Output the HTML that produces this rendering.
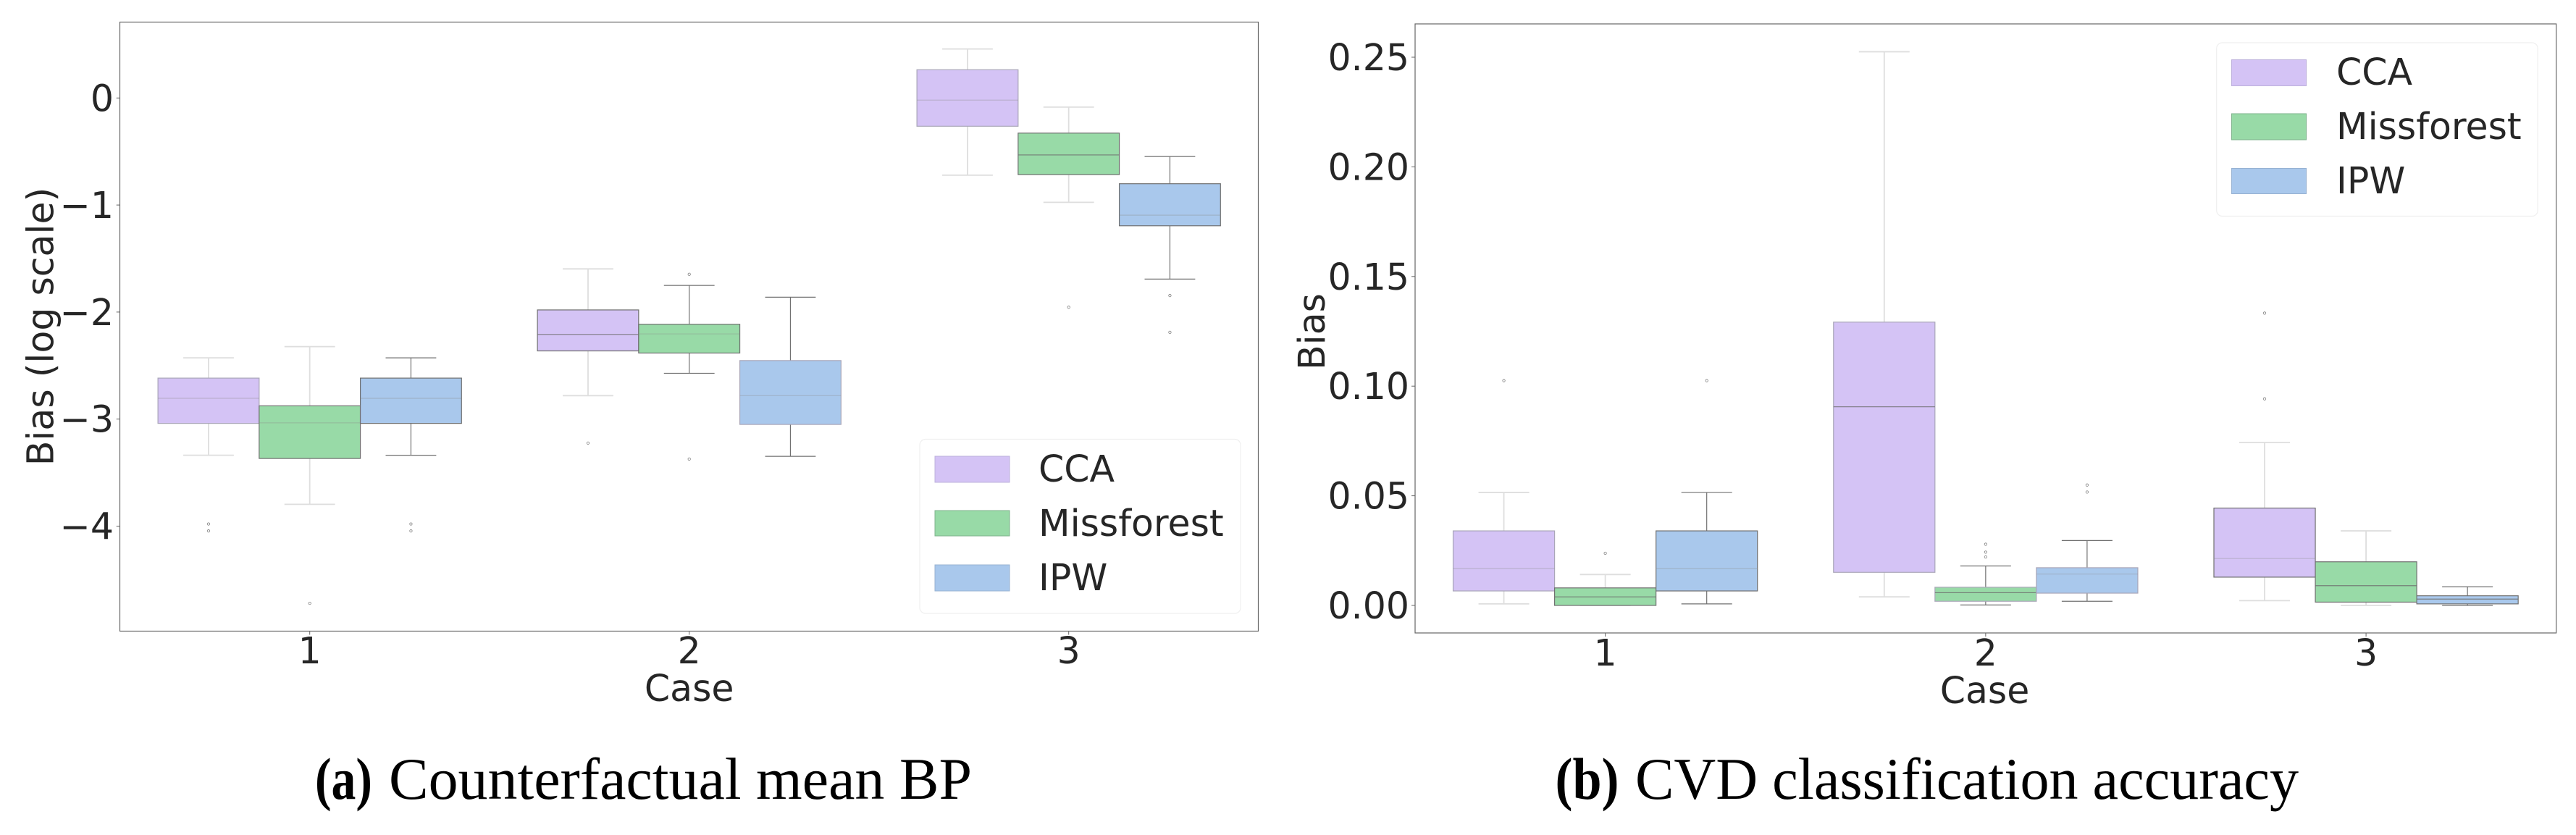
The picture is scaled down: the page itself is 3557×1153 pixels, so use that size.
<!DOCTYPE html>
<html lang="en">
<head>
<meta charset="utf-8">
<title>Bias box plots</title>
<style>
html,body{margin:0;padding:0;background:#fff;}
svg{display:block;}
.sans{font-family:"DejaVu Sans","Liberation Sans",sans-serif;fill:#262626;font-size:50.5px;}
.serif{font-family:"Liberation Serif",serif;fill:#000;font-size:82px;}
</style>
</head>
<body>
<svg id="figure" xmlns="http://www.w3.org/2000/svg" width="3557" height="1153" viewBox="0 0 3557 1153">
  <rect x="0" y="0" width="3557" height="1153" fill="#fff"/>

  <g id="panel-a">
    <g id="a-marks"></g>
    <g id="a-axes"></g>
    <rect x="165.5" y="30.5" width="1572" height="841" fill="none" stroke="#666" stroke-width="1.2"/>
    <text class="sans" x="951.7" y="968" text-anchor="middle">Case</text>
    <text class="sans" transform="translate(73.5,451) rotate(-90)" text-anchor="middle">Bias (log scale)</text>
    <g>
      <rect x="1270" y="606.5" width="443" height="240.5" rx="8" fill="#fff" fill-opacity="0.8" stroke="#efefef" stroke-width="1.2"/>
      <rect x="1291" y="630" width="103" height="36" fill="#d4c3f5" stroke="#bdb0dc" stroke-width="1"/>
      <text class="sans" x="1434" y="665">CCA</text>
      <rect x="1291" y="705" width="103" height="35" fill="#98daa7" stroke="#7fb38c" stroke-width="1"/>
      <text class="sans" x="1434" y="740">Missforest</text>
      <rect x="1291" y="780" width="103" height="36" fill="#a9c8ec" stroke="#97b2d2" stroke-width="1"/>
      <text class="sans" x="1434" y="815">IPW</text>
    </g>
  </g>

  <g id="panel-b">
    <g id="b-marks"></g>
    <g id="b-axes"></g>
    <rect x="1954" y="33" width="1575.7" height="841" fill="none" stroke="#666" stroke-width="1.2"/>
    <text class="sans" x="2740.5" y="971" text-anchor="middle">Case</text>
    <text class="sans" transform="translate(1828.8,458) rotate(-90)" text-anchor="middle">Bias</text>
    <g>
      <rect x="3060.7" y="59" width="443.5" height="239.5" rx="8" fill="#fff" fill-opacity="0.8" stroke="#efefef" stroke-width="1.2"/>
      <rect x="3081.5" y="82.5" width="103" height="36" fill="#d4c3f5" stroke="#bdb0dc" stroke-width="1"/>
      <text class="sans" x="3226" y="117">CCA</text>
      <rect x="3081.5" y="157" width="103" height="36" fill="#98daa7" stroke="#7fb38c" stroke-width="1"/>
      <text class="sans" x="3226" y="192">Missforest</text>
      <rect x="3081.5" y="232.5" width="103" height="35" fill="#a9c8ec" stroke="#97b2d2" stroke-width="1"/>
      <text class="sans" x="3226" y="267">IPW</text>
    </g>
  </g>

  <text class="serif" x="435" y="1103" font-weight="bold" textLength="79" lengthAdjust="spacingAndGlyphs">(a)</text>
  <text class="serif" x="537" y="1103" textLength="805" lengthAdjust="spacingAndGlyphs">Counterfactual mean BP</text>
  <text class="serif" x="2147.5" y="1103" font-weight="bold" textLength="88" lengthAdjust="spacingAndGlyphs">(b)</text>
  <text class="serif" x="2258" y="1103" textLength="916" lengthAdjust="spacingAndGlyphs">CVD classification accuracy</text>
</svg>

<script>
// Each row: [whisker high, Q3, median, Q1, whisker low], one row per case.
const caseLabels = ['1', '2', '3'];

const aTickValues = [0, -1, -2, -3, -4];
const aTickLabels = ['0', '\u22121', '\u22122', '\u22123', '\u22124'];
const aCCA = [
  [-2.428, -2.617, -2.806, -3.040, -3.338],
  [-1.597, -1.980, -2.209, -2.363, -2.781],
  [0.458, 0.264, -0.020, -0.264, -0.721]
];
const aMissforest = [
  [-2.323, -2.876, -3.035, -3.368, -3.796],
  [-1.751, -2.114, -2.204, -2.383, -2.572],
  [-0.085, -0.328, -0.532, -0.716, -0.975]
];
const aIPW = [
  [-2.428, -2.617, -2.806, -3.040, -3.338],
  [-1.861, -2.453, -2.781, -3.050, -3.348],
  [-0.547, -0.801, -1.095, -1.194, -1.692]
];
const aCCAOutliers = [[-3.980, -4.045], [-3.224], []];
const aMissforestOutliers = [[-4.721], [-1.647, -3.373], [-1.955]];
const aIPWOutliers = [[-3.980, -4.045], [], [-1.846, -2.189]];

const bTickValues = [0, 0.05, 0.10, 0.15, 0.20, 0.25];
const bTickLabels = ['0.00', '0.05', '0.10', '0.15', '0.20', '0.25'];
const bCCA = [
  [0.0515, 0.0340, 0.0168, 0.0066, 0.0007],
  [0.2525, 0.1292, 0.0906, 0.0151, 0.0039],
  [0.0743, 0.0444, 0.0214, 0.0129, 0.0022]
];
const bMissforest = [
  [0.0141, 0.0080, 0.0039, 0.0000, 0.0000],
  [0.0180, 0.0083, 0.0058, 0.0019, 0.0002],
  [0.0340, 0.0199, 0.0090, 0.0015, 0.0000]
];
const bIPW = [
  [0.0515, 0.0340, 0.0168, 0.0066, 0.0007],
  [0.0296, 0.0172, 0.0143, 0.0056, 0.0019],
  [0.0085, 0.0044, 0.0029, 0.0007, 0.0000]
];
const bCCAOutliers = [[0.1025], [], [0.1333, 0.0942]];
const bMissforestOutliers = [[0.0238], [0.0279, 0.0243, 0.0221], []];
const bIPWOutliers = [[0.1025], [0.0549, 0.0517], []];

const seriesNames = ['cca', 'missforest', 'ipw'];
const seriesFills = ['#d4c3f5', '#98daa7', '#a9c8ec'];

const SVG_NS = 'http://www.w3.org/2000/svg';

function mk(tag, parent, attrs) {
  const el = document.createElementNS(SVG_NS, tag);
  for (const k in attrs) el.setAttribute(k, attrs[k]);
  parent.appendChild(el);
  return el;
}

function drawPanel(cfg) {
  const marks = document.getElementById(cfg.marksId);
  const axes = document.getElementById(cfg.axesId);
  const catW = (cfg.right - cfg.left) / caseLabels.length;
  const xCat = i => cfg.left + catW * (i + 0.5);
  const yVal = v => cfg.y0 - v * cfg.yScale;
  const boxW = catW * 0.8 / cfg.series.length;

  cfg.series.forEach((rows, s) => {
    rows.forEach((row, c) => {
      const cx = xCat(c) + (s - (cfg.series.length - 1) / 2) * boxW;
      const key = c + '-' + s;
      const darkWhisker = cfg.darkWhiskers.indexOf(key) >= 0;
      const darkBox = cfg.darkOutlines.indexOf(key) >= 0;
      const darkMedian = cfg.darkMedians.indexOf(key) >= 0;
      const whiskerColor = darkWhisker ? '#707070' : '#dedede';
      const whiskerWidth = darkWhisker ? 1.2 : 1.8;
      const outlineColor = darkBox ? '#707070' : '#a9a6b8';
      const label = 'case-' + caseLabels[c] + '-' + seriesNames[s];

      const upper = mk('line', marks, {x1: cx, x2: cx, y1: yVal(row[0]), y2: yVal(row[1]), stroke: whiskerColor, 'stroke-width': whiskerWidth});
      
      

      const lower = mk('line', marks, {x1: cx, x2: cx, y1: yVal(row[3]), y2: yVal(row[4]), stroke: whiskerColor, 'stroke-width': whiskerWidth});
      
      

      const capTop = mk('line', marks, {x1: cx - boxW / 4, x2: cx + boxW / 4, y1: yVal(row[0]), y2: yVal(row[0]), stroke: whiskerColor, 'stroke-width': whiskerWidth});
      
      

      const capBottom = mk('line', marks, {x1: cx - boxW / 4, x2: cx + boxW / 4, y1: yVal(row[4]), y2: yVal(row[4]), stroke: whiskerColor, 'stroke-width': whiskerWidth});
      
      

      const box = mk('rect', marks, {x: cx - boxW / 2, y: yVal(row[1]), width: boxW, height: yVal(row[3]) - yVal(row[1]), fill: seriesFills[s], stroke: outlineColor, 'stroke-width': 1.2});
      
      

      const median = mk('line', marks, {x1: cx - boxW / 2, x2: cx + boxW / 2, y1: yVal(row[2]), y2: yVal(row[2]), stroke: darkMedian ? '#6e6e6e' : '#8a8a8a', 'stroke-opacity': darkMedian ? 0.85 : 0.35, 'stroke-width': 1.2});
      
      

      cfg.outliers[s][c].forEach(v => {
        const pt = mk('circle', marks, {cx: cx, cy: yVal(v), r: 1.7, fill: 'none', stroke: '#808080', 'stroke-width': 0.8});
        
        
      });
    });
  });

  cfg.tickValues.forEach((v, i) => {
    const tick = mk('line', axes, {x1: cfg.left - 5, x2: cfg.left, y1: yVal(v), y2: yVal(v), stroke: '#666', 'stroke-width': 1});
    
    

    const lab = mk('text', axes, {x: cfg.yLabelX, y: yVal(v) + 18, 'text-anchor': 'end', class: 'sans'});
    lab.textContent = cfg.tickLabels[i];
    
    
  });

  caseLabels.forEach((t, i) => {
    const tick = mk('line', axes, {x1: xCat(i), x2: xCat(i), y1: cfg.bottom, y2: cfg.bottom + 5, stroke: '#666', 'stroke-width': 1});
    
    

    const lab = mk('text', axes, {x: xCat(i), y: cfg.xLabelY, 'text-anchor': 'middle', class: 'sans'});
    lab.textContent = t;
    
    
  });
}

drawPanel({
  marksId: 'a-marks', axesId: 'a-axes',
  left: 165.7, right: 1737.7, bottom: 871.5,
  y0: 135.3, yScale: 147.8,
  yLabelX: 157, xLabelY: 916,
  tickValues: aTickValues, tickLabels: aTickLabels,
  series: [aCCA, aMissforest, aIPW],
  outliers: [aCCAOutliers, aMissforestOutliers, aIPWOutliers],
  darkWhiskers: ['0-2', '1-1', '1-2', '2-2'],
  darkOutlines: ['0-1', '0-2', '1-0', '1-1', '2-1', '2-2'],
  darkMedians: ['1-0', '2-1']
});

drawPanel({
  marksId: 'b-marks', axesId: 'b-axes',
  left: 1954, right: 3529.7, bottom: 874,
  y0: 836, yScale: 3028,
  yLabelX: 1946, xLabelY: 919,
  tickValues: bTickValues, tickLabels: bTickLabels,
  series: [bCCA, bMissforest, bIPW],
  outliers: [bCCAOutliers, bMissforestOutliers, bIPWOutliers],
  darkWhiskers: ['0-2', '1-1', '1-2', '2-2'],
  darkOutlines: ['0-1', '0-2', '2-0', '2-1', '2-2'],
  darkMedians: ['0-1', '1-0', '1-1', '2-1', '2-2']
});
</script>
</body>
</html>
